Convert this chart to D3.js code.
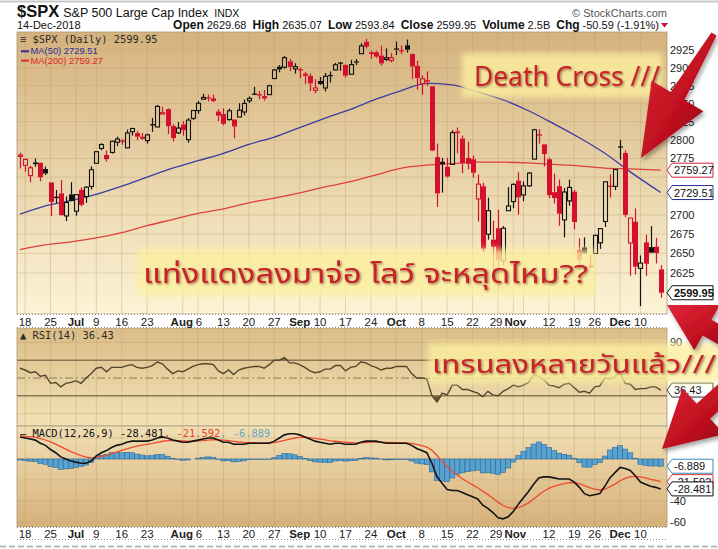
<!DOCTYPE html>
<html>
<head>
<meta charset="utf-8">
<title>$SPX daily</title>
<script src="https://d3js.org/d3.v7.min.js"></script>
<style>
  body { margin: 0; background: #fff; }
  svg { display: block; font-family: Arial, "Liberation Sans", sans-serif; }
</style>
</head>
<body>
<div id="chart"></div>
<script>
// ---------------- data ----------------
const dates = [
  "2018-06-15","2018-06-18","2018-06-19","2018-06-20","2018-06-21","2018-06-22","2018-06-25","2018-06-26","2018-06-27","2018-06-28","2018-06-29",
  "2018-07-02","2018-07-03","2018-07-05","2018-07-06","2018-07-09","2018-07-10","2018-07-11","2018-07-12","2018-07-13","2018-07-16","2018-07-17","2018-07-18","2018-07-19","2018-07-20","2018-07-23","2018-07-24","2018-07-25","2018-07-26","2018-07-27","2018-07-30","2018-07-31",
  "2018-08-01","2018-08-02","2018-08-03","2018-08-06","2018-08-07","2018-08-08","2018-08-09","2018-08-10","2018-08-13","2018-08-14","2018-08-15","2018-08-16","2018-08-17","2018-08-20","2018-08-21","2018-08-22","2018-08-23","2018-08-24","2018-08-27","2018-08-28","2018-08-29","2018-08-30","2018-08-31",
  "2018-09-04","2018-09-05","2018-09-06","2018-09-07","2018-09-10","2018-09-11","2018-09-12","2018-09-13","2018-09-14","2018-09-17","2018-09-18","2018-09-19","2018-09-20","2018-09-21","2018-09-24","2018-09-25","2018-09-26","2018-09-27","2018-09-28",
  "2018-10-01","2018-10-02","2018-10-03","2018-10-04","2018-10-05","2018-10-08","2018-10-09","2018-10-10","2018-10-11","2018-10-12","2018-10-15","2018-10-16","2018-10-17","2018-10-18","2018-10-19","2018-10-22","2018-10-23","2018-10-24","2018-10-25","2018-10-26","2018-10-29","2018-10-30","2018-10-31",
  "2018-11-01","2018-11-02","2018-11-05","2018-11-06","2018-11-07","2018-11-08","2018-11-09","2018-11-12","2018-11-13","2018-11-14","2018-11-15","2018-11-16","2018-11-19","2018-11-20","2018-11-21","2018-11-23","2018-11-26","2018-11-27","2018-11-28","2018-11-29","2018-11-30",
  "2018-12-03","2018-12-04","2018-12-06","2018-12-07","2018-12-10","2018-12-11","2018-12-12","2018-12-13","2018-12-14"
];
const opens = [
  2777.78,2765.79,2752.01,2769.73,2769.28,2760.79,2742.94,2722.12,2728.45,2698.69,2727.13,
  2704.95,2733.27,2724.19,2737.68,2768.51,2788.56,2779.82,2783.14,2796.93,2797.36,2789.34,2811.35,2809.37,2804.55,2799.17,2820.68,2817.73,2835.49,2842.35,2819.00,2809.73,
  2821.17,2800.48,2829.62,2840.29,2855.92,2856.79,2857.19,2838.90,2835.46,2827.88,2827.95,2831.44,2838.32,2853.93,2861.51,2860.99,2860.29,2862.35,2884.69,2901.45,2900.62,2908.94,2898.37,
  2896.96,2891.59,2888.64,2868.26,2881.39,2871.57,2888.29,2896.85,2906.38,2903.83,2890.74,2906.60,2919.73,2936.76,2921.83,2921.75,2916.98,2911.65,2910.03,
  2926.29,2923.80,2931.69,2919.35,2902.54,2877.53,2882.51,2873.90,2776.87,2770.54,2763.83,2767.05,2811.67,2802.00,2775.66,2773.94,2721.03,2737.87,2674.88,2667.86,2682.65,2640.68,2705.60,
  2717.58,2745.45,2726.37,2738.40,2774.13,2806.38,2794.10,2773.93,2730.05,2737.90,2693.52,2718.54,2730.74,2654.60,2657.74,2633.36,2649.97,2663.75,2691.45,2736.97,2737.76,
  2790.50,2782.43,2663.51,2691.26,2630.86,2664.44,2658.23,2658.70,2629.68
];
const highs = [
  2782.81,2774.99,2765.05,2774.86,2769.28,2764.17,2742.94,2732.91,2746.09,2724.34,2743.26,
  2727.26,2736.58,2737.83,2764.41,2784.65,2795.58,2785.91,2799.22,2804.53,2801.19,2814.19,2816.76,2812.05,2809.70,2808.61,2829.99,2848.03,2845.57,2843.17,2821.74,2824.46,
  2825.83,2829.91,2840.38,2853.29,2863.43,2862.44,2862.48,2842.20,2843.40,2843.11,2827.95,2850.49,2855.63,2859.76,2873.23,2867.54,2868.78,2876.16,2898.25,2903.77,2916.50,2912.46,2906.32,
  2900.18,2894.21,2892.05,2883.81,2886.93,2892.52,2894.65,2906.76,2908.30,2904.65,2911.17,2912.36,2934.80,2940.91,2923.79,2923.95,2931.15,2927.22,2920.53,
  2937.06,2931.42,2939.86,2919.78,2909.64,2889.45,2894.83,2874.02,2795.14,2775.77,2775.99,2813.46,2816.94,2806.04,2797.77,2778.94,2753.59,2742.59,2722.70,2692.38,2706.85,2685.43,2736.69,
  2741.67,2756.55,2744.27,2756.82,2815.15,2814.75,2794.10,2775.99,2754.60,2746.80,2735.38,2746.75,2733.16,2669.44,2670.73,2647.55,2674.35,2682.53,2744.00,2753.75,2760.88,
  2800.18,2785.93,2696.15,2708.54,2647.51,2674.35,2685.44,2670.19,2635.07
];
const lows = [
  2761.73,2757.12,2743.19,2763.91,2744.39,2752.68,2698.67,2715.60,2699.38,2691.99,2718.03,
  2698.95,2711.16,2716.02,2733.52,2768.51,2786.24,2770.77,2781.53,2791.69,2793.39,2789.24,2805.89,2799.77,2800.01,2795.14,2811.12,2817.73,2835.26,2808.34,2798.11,2808.06,
  2805.85,2796.34,2827.37,2835.98,2855.92,2853.09,2851.98,2825.81,2819.88,2826.58,2802.49,2831.44,2833.73,2850.62,2861.32,2856.05,2854.03,2862.35,2884.69,2893.50,2898.40,2895.22,2891.73,
  2885.13,2876.92,2867.29,2864.12,2875.94,2866.78,2879.20,2896.39,2895.77,2886.16,2890.43,2903.82,2919.73,2927.11,2912.63,2913.70,2903.28,2909.27,2907.50,
  2917.91,2919.37,2921.36,2883.92,2869.29,2862.08,2874.27,2784.86,2710.51,2729.44,2749.03,2766.91,2781.81,2755.18,2760.27,2749.22,2691.43,2651.89,2667.84,2628.16,2603.54,2635.34,2705.60,
  2708.85,2700.44,2717.94,2737.08,2774.13,2794.99,2764.24,2722.00,2714.98,2685.75,2670.75,2712.16,2681.09,2631.52,2649.82,2631.09,2649.97,2655.89,2684.38,2722.94,2732.76,
  2773.38,2697.18,2621.53,2623.14,2583.23,2621.30,2650.26,2637.27,2593.84
];
const closes = [
  2779.66,2773.75,2762.59,2767.32,2749.76,2754.88,2717.07,2723.06,2699.63,2716.31,2718.37,
  2726.71,2713.22,2736.61,2759.82,2784.17,2793.84,2774.02,2798.29,2801.31,2798.43,2809.55,2815.62,2804.49,2801.83,2806.98,2820.40,2846.07,2837.44,2818.82,2802.60,2816.29,
  2813.36,2827.22,2840.35,2850.40,2858.45,2857.70,2853.58,2833.28,2821.93,2839.96,2818.37,2840.69,2850.13,2857.05,2862.96,2861.82,2856.98,2874.69,2896.74,2897.52,2914.04,2901.13,2901.52,
  2896.72,2888.60,2878.05,2871.68,2877.13,2887.89,2888.92,2904.18,2904.98,2888.80,2904.31,2907.95,2930.75,2929.67,2919.37,2915.56,2905.97,2914.00,2913.98,
  2924.59,2923.43,2925.51,2901.61,2885.57,2884.43,2880.34,2785.68,2728.37,2767.13,2750.79,2809.92,2809.21,2768.78,2767.78,2755.88,2740.69,2656.10,2705.57,2658.69,2641.25,2682.63,2711.74,
  2740.37,2723.06,2738.31,2755.45,2813.89,2806.83,2781.01,2726.22,2722.18,2701.58,2730.20,2736.27,2690.73,2641.89,2649.93,2632.56,2673.45,2682.17,2743.79,2737.80,2760.17,
  2790.37,2700.06,2695.95,2633.08,2637.72,2636.78,2651.07,2650.54,2599.95
];
const closeBefore = 2782.49; // close of the day before the first bar

// moving averages, sampled about weekly
const maDates = ["2018-06-15","2018-06-22","2018-06-29","2018-07-09","2018-07-16","2018-07-23","2018-07-30","2018-08-06","2018-08-13","2018-08-20","2018-08-27","2018-09-04","2018-09-11",
  "2018-09-18","2018-09-25","2018-10-02","2018-10-09","2018-10-16","2018-10-23","2018-10-30","2018-11-06","2018-11-13","2018-11-20","2018-11-28","2018-12-06","2018-12-14"];
const ma50 = [2701,2712,2719,2727,2738,2750,2762,2772,2782,2794,2804,2817,2830,2842,2856,2868,2878,2876,2866,2855,2840,2822,2803,2782,2757,2729.51];
const ma200 = [2655,2661,2665,2670,2677,2686,2694,2702,2708,2716,2722,2729,2737,2744,2753,2762,2766,2768,2770,2770,2769,2767,2765,2762,2761,2759.27];

const rsi = [
  61,59,56,57,52,53,44,45,40,44,45,
  47,44,50,55,61,62,57,62,62,62,64,65,62,61,62,64,68,66,60,55,58,
  57,60,63,65,66,66,65,58,55,59,54,59,61,62,63,63,61,65,70,70,73,67,67,
  65,62,58,56,57,60,60,64,64,58,62,63,68,67,64,62,59,61,61,
  63,63,63,55,50,50,49,30,23,33,31,42,42,37,37,35,33,29,35,31,30,35,38,
  42,40,42,45,53,52,48,42,41,39,43,44,39,34,35,33,40,41,50,49,52,
  56,44,43,37,38,38,40,40,36.43
];
const macd = [
  21,20,19,18,15,13,9,6,2,0,-2,
  -3,-4,-4,-2,3,6,8,11,13,14,16,17,17,17,17,18,20,21,20,18,17,
  16,16,17,18,19,20,20,18,16,16,14,14,14,15,15,15,15,15,17,20,23,24,24,
  23,21,19,17,16,15,14,15,15,14,14,14,16,17,17,17,16,15,15,
  15,15,15,13,10,8,6,-4,-17,-23,-29,-30,-30,-32,-34,-36,-38,-44,-47,-51,-56,-57,-55,
  -50,-43,-37,-31,-24,-18,-17,-17,-18,-19,-19,-19,-22,-27,-33,-35,-34,-33,-26,-18,-13,
  -8,-9,-11,-16,-22,-24,-26,-27,-28.481
];
const signal = [
  22,21.6,21.1,20.5,19.4,18.1,16.3,14.2,11.8,9.4,7.1,
  5.1,3.3,1.8,1.1,1.5,2.4,3.5,5,6.6,8.1,9.7,11.1,12.3,13.2,14,14.8,15.8,16.9,17.5,17.6,17.5,
  17.2,16.9,17,17.2,17.5,18,18.4,18.3,17.9,17.5,16.8,16.2,15.8,15.6,15.5,15.4,15.3,15.3,15.6,16.5,17.8,19,20,
  20.6,20.7,20.4,19.7,19,18.2,17.3,16.9,16.5,16,15.6,15.3,15.4,15.7,16,16.2,16.2,15.9,15.7,
  15.6,15.5,15.4,14.9,13.9,12.7,11.4,8.3,3.3,-2,-7.4,-11.9,-15.5,-18.8,-21.9,-24.7,-27.4,-30.7,-33.9,-37.4,-41.1,-44.3,-46.4,
  -47.1,-46.3,-44.4,-41.8,-38.2,-34.2,-30.7,-28,-26,-24.6,-23.5,-22.6,-22.5,-23.4,-25.3,-27.2,-28.6,-29.5,-28.8,-26.6,-23.9,
  -20.7,-18.4,-16.9,-16.5,-17,-18,-19.3,-20.4,-21.592
];
const hist = [
  -1,-1.6,-2.1,-2.5,-4.4,-5.1,-7.3,-8.2,-9.8,-9.4,-9.1,
  -8.1,-7.3,-5.8,-3.1,1.5,3.6,4.5,6,6.4,5.9,6.3,5.9,4.7,3.8,3,3.2,4.2,4.1,2.5,0.4,-0.5,
  -1.2,-0.9,0,0.8,1.5,2,1.6,-0.3,-1.9,-1.5,-2.8,-2.2,-1.8,-0.6,-0.5,-0.4,-0.3,-0.3,1.4,3.5,5.2,5,4,
  2.4,0.3,-1.4,-2.7,-3,-3.2,-3.3,-1.9,-1.5,-2,-1.6,-1.3,0.6,1.3,1,0.8,-0.2,-0.9,-0.7,
  -0.6,-0.5,-0.4,-1.9,-3.9,-4.7,-5.4,-12.3,-20.3,-21,-21.6,-18.1,-14.5,-13.2,-12.1,-11.3,-10.6,-13.3,-13.1,-13.6,-14.9,-12.7,-8.6,
  -2.9,3.3,7.4,10.8,14.2,16.2,13.7,11,8,5.6,4.5,3.6,0.5,-3.6,-7.7,-7.8,-5.4,-3.5,2.8,8.6,10.9,
  12.7,9.4,5.9,0.5,-5,-6,-6.7,-6.6,-6.889
];

// x axis labels
const tickDates = ["2018-06-18","2018-06-25","2018-07-02","2018-07-09","2018-07-16","2018-07-23","2018-08-01","2018-08-06","2018-08-13","2018-08-20","2018-08-27",
  "2018-09-04","2018-09-10","2018-09-17","2018-09-24","2018-10-01","2018-10-08","2018-10-15","2018-10-22","2018-10-29","2018-11-01","2018-11-12","2018-11-19","2018-11-26","2018-12-03","2018-12-10"];
const tickText = ["18","25","Jul","9","16","23","Aug","6","13","20","27","Sep","10","17","24","Oct","8","15","22","29","Nov","12","19","26","Dec","10"];
const tickNudge = {"29": -2, "Nov": 2, "Aug": -1, "6": 1};
const gridDates = tickDates.concat(["2018-11-05"]);
const priceTicks = d3.range(2625, 2926, 25);
const rsiShown = [90];
const macdTicks = [-60, -40, -20, 0, 20];

// ---------------- layout ----------------
const W = 718, H = 549;
const L = 17, R = 667;
const main = {top: 32, bot: 314};
const rsiP = {top: 328, bot: 426};
const macdP = {top: 426, bot: 527};
const RED = "#d5102f";

const svg = d3.select("#chart").append("svg").attr("width", W).attr("height", H);
const defs = svg.append("defs");

function vgrad(id, c1, c2) {
  const g = defs.append("linearGradient").attr("id", id).attr("x1", 0).attr("y1", 0).attr("x2", 0).attr("y2", 1);
  g.append("stop").attr("offset", "0%").attr("stop-color", c1);
  g.append("stop").attr("offset", "100%").attr("stop-color", c2);
}
vgrad("gMain", "#d5b27d", "#fcf4d6");
vgrad("gRsi", "#dbbd88", "#f3e2b6");
vgrad("gMacd", "#f1dfb4", "#d6b07a");
const ag = defs.append("linearGradient").attr("id", "gArrow").attr("x1", 0).attr("y1", 0).attr("x2", 1).attr("y2", 1);
ag.append("stop").attr("offset", "0%").attr("stop-color", "#e0283a");
ag.append("stop").attr("offset", "55%").attr("stop-color", "#c0101f");
ag.append("stop").attr("offset", "100%").attr("stop-color", "#7c0812");

defs.append("filter").attr("id", "soft").attr("x", "-10%").attr("y", "-20%").attr("width", "120%").attr("height", "140%")
  .append("feGaussianBlur").attr("stdDeviation", 3);
const sh = defs.append("filter").attr("id", "shadow").attr("x", "-5%").attr("y", "-20%").attr("width", "110%").attr("height", "150%");
sh.append("feDropShadow").attr("dx", 1.2).attr("dy", 1.2).attr("stdDeviation", 0.8).attr("flood-color", "#4a1500").attr("flood-opacity", 0.55);
const ash = defs.append("filter").attr("id", "ashadow").attr("x", "-20%").attr("y", "-20%").attr("width", "150%").attr("height", "150%");
ash.append("feDropShadow").attr("dx", 2).attr("dy", 3).attr("stdDeviation", 2).attr("flood-color", "#000").attr("flood-opacity", 0.35);

[["cMain", main], ["cRsi", rsiP], ["cMacd", macdP]].forEach(([id, p]) => {
  defs.append("clipPath").attr("id", id).append("rect").attr("x", L).attr("y", p.top).attr("width", R - L).attr("height", p.bot - p.top);
});

// scales
const x = d3.scaleBand().domain(dates).range([17.5, 663.3]);
const cx = d => x(d) + x.bandwidth() / 2;
const yMain = d3.scaleLog().domain([2625, 2925]).range([273, 50]);
const yRsi = d3.scaleLinear().domain([0, 100]).range([422.4, 333.6]);
const yMacd = d3.scaleLinear().domain([-60, 0]).range([522, 459]);

// top / bottom borders
svg.append("line").attr("x1", 0).attr("x2", W).attr("y1", 1.5).attr("y2", 1.5).attr("stroke", "#c8c8c8").attr("stroke-width", 2);
svg.append("line").attr("x1", 0).attr("x2", W).attr("y1", 546.5).attr("y2", 546.5).attr("stroke", "#bbb").attr("stroke-width", 2).attr("stroke-dasharray", "6,3");

// panels
[[main, "gMain"], [rsiP, "gRsi"], [macdP, "gMacd"]].forEach(([p, g]) => {
  svg.append("rect").attr("x", L).attr("y", p.top).attr("width", R - L).attr("height", p.bot - p.top)
    .attr("fill", `url(#${g})`).attr("stroke", "#a89878").attr("stroke-width", 0.8);
});

// vertical grid
[main, rsiP, macdP].forEach(p => {
  svg.append("g").selectAll("line").data(gridDates).join("line")
    .attr("x1", d => cx(d)).attr("x2", d => cx(d)).attr("y1", p.top).attr("y2", p.bot)
    .attr("stroke", "#b89a68").attr("stroke-opacity", 0.45).attr("stroke-width", 0.8);
});
// horizontal grid
svg.append("g").selectAll("line").data(priceTicks).join("line")
  .attr("x1", L).attr("x2", R).attr("y1", d => yMain(d)).attr("y2", d => yMain(d))
  .attr("stroke", "#b89a68").attr("stroke-opacity", 0.4).attr("stroke-width", 0.8);
svg.append("g").selectAll("line").data([10, 90]).join("line")
  .attr("x1", L).attr("x2", R).attr("y1", d => yRsi(d)).attr("y2", d => yRsi(d))
  .attr("stroke", "#b89a68").attr("stroke-opacity", 0.4).attr("stroke-width", 0.8);
svg.append("g").selectAll("line").data(macdTicks).join("line")
  .attr("x1", L).attr("x2", R).attr("y1", d => yMacd(d)).attr("y2", d => yMacd(d))
  .attr("stroke", "#b89a68").attr("stroke-opacity", 0.4).attr("stroke-width", 0.8);

// x axis bands
function xBand(top, bot) {
  svg.append("rect").attr("x", L).attr("y", top).attr("width", R - L).attr("height", bot - top).attr("fill", "#fff");
  [top + 0.5, bot - 0.5].forEach(yy => svg.append("line").attr("x1", L).attr("x2", R).attr("y1", yy).attr("y2", yy)
    .attr("stroke", "#888").attr("stroke-dasharray", "1,2"));
  svg.append("g").selectAll("text").data(tickDates).join("text")
    .attr("x", (d, i) => cx(d) + (tickNudge[tickText[i]] || 0)).attr("y", bot - 2.5).attr("text-anchor", "middle")
    .attr("font-size", 11.5).attr("fill", "#222")
    .attr("font-weight", (d, i) => /[A-Z]/.test(tickText[i]) ? "bold" : "normal")
    .text((d, i) => tickText[i]);
}
xBand(main.bot, rsiP.top);
xBand(macdP.bot, 540);

// right-axis value tags; plain tick labels too close to a tag are left out
function tag(yv, label, col, bold) {
  const g = svg.append("g").attr("transform", `translate(667,${yv})`);
  g.append("path").attr("d", "M0,0 L5,-7 L46,-7 L46,7 L5,7 Z").attr("fill", "#fff").attr("stroke", col).attr("stroke-width", 1);
  g.append("text").attr("x", 7).attr("y", 4).attr("font-size", 11).attr("fill", "#111")
    .attr("font-weight", bold ? "bold" : "normal").text(label);
}
function axisLabels(ticks, scale, tagVals) {
  const free = ticks.filter(t => tagVals.every(v => Math.abs(scale(t) - scale(v)) > 10));
  svg.append("g").selectAll("text").data(free).join("text")
    .attr("x", 670).attr("y", d => scale(d) + 4).attr("font-size", 11).attr("fill", "#222").text(d => d);
}

// ---------------- price panel ----------------
const gm = svg.append("g").attr("clip-path", "url(#cMain)");
const maLine = arr => d3.line().curve(d3.curveMonotoneX).x((d, i) => cx(maDates[i])).y(d => yMain(d))(arr);
gm.append("path").attr("d", maLine(ma200)).attr("fill", "none").attr("stroke", "#e0403c").attr("stroke-width", 1.3);
gm.append("path").attr("d", maLine(ma50)).attr("fill", "none").attr("stroke", "#3c3ca0").attr("stroke-width", 1.3);

const bars = dates.map((d, i) => ({d, o: opens[i], h: highs[i], l: lows[i], c: closes[i], pc: i ? closes[i - 1] : closeBefore}));
const bw = 4;
const candle = gm.append("g").selectAll("g").data(bars).join("g");
candle.each(function (b) {
  const g = d3.select(this);
  const col = b.c >= b.pc ? "#111" : RED;
  const xc = Math.round(cx(b.d)) + 0.5;
  const top = yMain(Math.max(b.o, b.c)), bot = yMain(Math.min(b.o, b.c));
  g.append("line").attr("x1", xc).attr("x2", xc).attr("y1", yMain(b.h)).attr("y2", top).attr("stroke", col).attr("stroke-width", 1.2);
  g.append("line").attr("x1", xc).attr("x2", xc).attr("y1", bot).attr("y2", yMain(b.l)).attr("stroke", col).attr("stroke-width", 1.2);
  if (bot - top < 1.2) {
    g.append("line").attr("x1", xc - bw / 2 - 0.5).attr("x2", xc + bw / 2 + 0.5).attr("y1", top).attr("y2", top).attr("stroke", col).attr("stroke-width", 1.3);
  } else if (b.c > b.o) {
    g.append("rect").attr("x", xc - bw / 2).attr("y", top).attr("width", bw).attr("height", bot - top)
      .attr("fill", "none").attr("stroke", col).attr("stroke-width", 1.1);
  } else {
    g.append("rect").attr("x", xc - bw / 2 - 0.5).attr("y", top).attr("width", bw + 1).attr("height", bot - top).attr("fill", col);
  }
});

// legend
svg.append("text").attr("x", 20).attr("y", 42.7).attr("font-family", "'DejaVu Sans Mono', monospace").attr("font-size", 10.4).attr("fill", "#2a2a2a")
  .text("\u2261 $SPX (Daily) 2599.95");
[["MA(50) 2729.51", "#2c2c98", 54.3], ["MA(200) 2759.27", "#dd2a2a", 63.6]].forEach(([t, c, yy]) => {
  svg.append("line").attr("x1", 21).attr("x2", 29).attr("y1", yy - 3).attr("y2", yy - 3).attr("stroke", c).attr("stroke-width", 2);
  svg.append("text").attr("x", 30.5).attr("y", yy).attr("font-size", 9.4).attr("fill", c).text(t);
});

axisLabels(priceTicks, yMain, [2759.27, 2729.51, 2599.95]);
tag(yMain(2759.27), "2759.27", "#d02040");
tag(yMain(2729.51), "2729.51", "#2c2c98");
tag(yMain(2599.95), "2599.95", "#111", true);

// ---------------- RSI panel ----------------
const gr = svg.append("g").attr("clip-path", "url(#cRsi)");
gr.append("path").attr("d", d3.area().x((d, i) => cx(dates[i])).y0(yRsi(30)).y1(d => yRsi(Math.min(d, 30)))(rsi)).attr("fill", "#7b5230");
gr.append("path").attr("d", d3.area().x((d, i) => cx(dates[i])).y0(yRsi(70)).y1(d => yRsi(Math.max(d, 70)))(rsi)).attr("fill", "#7b5230");
[30, 70].forEach(v => gr.append("line").attr("x1", L).attr("x2", R).attr("y1", yRsi(v)).attr("y2", yRsi(v))
  .attr("stroke", "#8e7654").attr("stroke-width", 1.6));
gr.append("line").attr("x1", L).attr("x2", R).attr("y1", yRsi(50)).attr("y2", yRsi(50))
  .attr("stroke", "#8e7654").attr("stroke-width", 1).attr("stroke-dasharray", "8,3,2,3");
gr.append("path").attr("d", d3.line().x((d, i) => cx(dates[i])).y(d => yRsi(d))(rsi))
  .attr("fill", "none").attr("stroke", "#51472c").attr("stroke-width", 1.4);
svg.append("text").attr("x", 20).attr("y", 338.5).attr("font-family", "'DejaVu Sans Mono', monospace").attr("font-size", 10.4).attr("fill", "#2a2a2a")
  .text("\u25B2 RSI(14) 36.43");
// only the 90 label is left clear by the notes drawn over this axis
axisLabels(rsiShown, yRsi, [36.43]);
tag(yRsi(36.43), "36.43", "#333");

// ---------------- MACD panel ----------------
const gc = svg.append("g").attr("clip-path", "url(#cMacd)");
gc.append("g").selectAll("rect").data(hist).join("rect")
  .attr("x", (d, i) => x(dates[i])).attr("width", x.bandwidth())
  .attr("y", d => Math.min(yMacd(d), yMacd(0))).attr("height", d => Math.abs(yMacd(d) - yMacd(0)))
  .attr("fill", "#58a2d2").attr("stroke", "#2d6896").attr("stroke-width", 0.6);
gc.append("path").attr("d", d3.line().x((d, i) => cx(dates[i])).y(d => yMacd(d))(signal))
  .attr("fill", "none").attr("stroke", "#ee4a2e").attr("stroke-width", 1.3);
gc.append("path").attr("d", d3.line().x((d, i) => cx(dates[i])).y(d => yMacd(d))(macd))
  .attr("fill", "none").attr("stroke", "#141414").attr("stroke-width", 1.6);
const ml = svg.append("text").attr("x", 20).attr("y", 437).attr("font-family", "'DejaVu Sans Mono', monospace").attr("font-size", 10.4);
ml.append("tspan").attr("fill", "#111").text("\u2014 MACD(12,26,9) -28.481");
ml.append("tspan").attr("fill", "#e8402a").text(", -21.592");
ml.append("tspan").attr("fill", "#6aa6c6").text(", -6.889");
axisLabels(macdTicks, yMacd, [-6.889, -21.592, -28.481]);
tag(yMacd(-6.889), "-6.889", "#3a8ac0");
tag(yMacd(-21.592), "-21.592", "#e03030");
tag(yMacd(-28.481), "-28.481", "#111");

// ---------------- header ----------------
const h1 = svg.append("text").attr("x", 17).attr("y", 17).attr("fill", "#111");
h1.append("tspan").attr("font-size", 16.5).attr("font-weight", "bold").text("$SPX");
h1.append("tspan").attr("font-size", 12.5).attr("dx", 4).text("S&P 500 Large Cap Index");
h1.append("tspan").attr("font-size", 10.5).attr("dx", 6).text("INDX");
svg.append("text").attr("x", 667).attr("y", 17).attr("text-anchor", "end").attr("font-size", 11).attr("fill", "#555")
  .text("\u00A9 StockCharts.com");
svg.append("text").attr("x", 17).attr("y", 28.5).attr("font-size", 11).attr("fill", "#111").text("14-Dec-2018");
const h2 = svg.append("text").attr("x", 659).attr("y", 28.5).attr("text-anchor", "end").attr("font-size", 11).attr("fill", "#111");
[["Open", "2629.68"], ["High", "2635.07"], ["Low", "2593.84"], ["Close", "2599.95"], ["Volume", "2.5B"], ["Chg", "-50.59 (-1.91%)"]].forEach(([k, v], i) => {
  h2.append("tspan").attr("font-weight", "bold").attr("font-size", 12).attr("dx", i ? 6 : 0).text(k);
  h2.append("tspan").attr("dx", 3).text(v);
});
svg.append("path").attr("d", "M661,23 L668,23 L664.5,27.5 Z").attr("fill", "#c81030");

// ---------------- annotations ----------------
function note(x0, y0, w, h, txt, tx, ty, fs, tl) {
  svg.append("rect").attr("x", x0).attr("y", y0).attr("width", w).attr("height", h)
    .attr("fill", "#fcef9e").attr("opacity", 0.82).attr("filter", "url(#soft)");
  svg.append("text").attr("x", tx).attr("y", ty).attr("font-size", fs).attr("fill", "#c8202c")
    .attr("font-family", "Tahoma, 'Noto Sans Thai', 'Liberation Sans', sans-serif")
    .attr("filter", "url(#shadow)").attr("textLength", tl).attr("lengthAdjust", "spacingAndGlyphs").text(txt);
}
note(462, 53, 200, 44, "Death Cross ///", 474, 86, 27, 186);
note(138, 249, 457, 47, "แท่งแดงลงมาจ่อ โลว์ จะหลุดไหม??", 143, 283, 26, 445);
note(428, 343, 292, 40, "เทรนลงหลายวันแล้ว///", 432, 373, 25, 284);

function arrowPath(tail, tip, tailW, neckW, headLen, headW) {
  const dx = tip[0] - tail[0], dy = tip[1] - tail[1];
  const len = Math.hypot(dx, dy), ux = dx / len, uy = dy / len, px = -uy, py = ux;
  const n = [tip[0] - ux * headLen, tip[1] - uy * headLen];
  const pts = [
    [tail[0] + px * tailW / 2, tail[1] + py * tailW / 2],
    [n[0] + px * neckW / 2, n[1] + py * neckW / 2],
    [n[0] + px * headW / 2, n[1] + py * headW / 2],
    tip,
    [n[0] - px * headW / 2, n[1] - py * headW / 2],
    [n[0] - px * neckW / 2, n[1] - py * neckW / 2],
    [tail[0] - px * tailW / 2, tail[1] - py * tailW / 2]
  ];
  return d3.line()(pts) + "Z";
}
[
  [[714, 34], [641, 158], 6, 16, 72, 60],
  [[738, 345], [667, 305], 18, 18, 46, 52],
  [[742, 376], [662, 449], 20, 20, 56, 62]
].forEach(a => svg.append("path").attr("d", arrowPath(...a)).attr("fill", "url(#gArrow)").attr("filter", "url(#ashadow)"));
</script>
</body>
</html>
